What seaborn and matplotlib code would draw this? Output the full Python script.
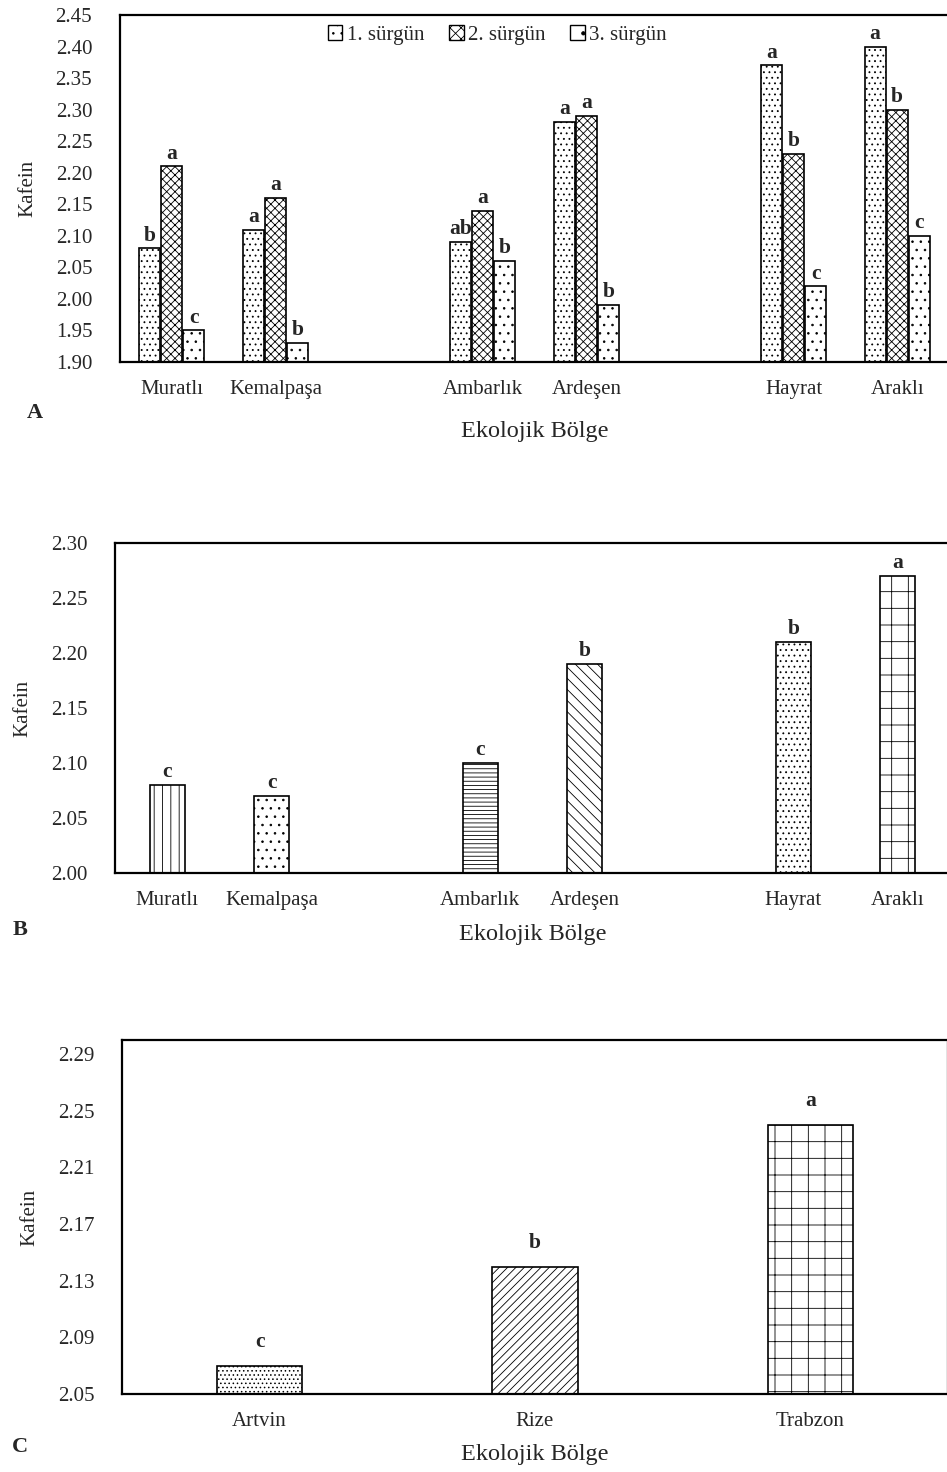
import pandas as pd
import seaborn as sns
import matplotlib.pyplot as plt
import matplotlib.patches as mpatches

# panel A: caffeine by region and harvest (sürgün)
regions_a = ['Muratlı', 'Kemalpaşa', 'Ambarlık', 'Ardeşen', 'Hayrat', 'Araklı']
surgun_1 = [2.08, 2.11, 2.09, 2.28, 2.37, 2.40]
surgun_2 = [2.21, 2.16, 2.14, 2.29, 2.23, 2.30]
surgun_3 = [1.95, 1.93, 2.06, 1.99, 2.02, 2.10]
letters_1 = ['b', 'a', 'ab', 'a', 'a', 'a']
letters_2 = ['a', 'a', 'a', 'a', 'b', 'b']
letters_3 = ['c', 'b', 'b', 'b', 'c', 'c']
hue_levels = ['1. sürgün', '2. sürgün', '3. sürgün']

# panel B: caffeine by region
regions_b = ['Muratlı', 'Kemalpaşa', 'Ambarlık', 'Ardeşen', 'Hayrat', 'Araklı']
kafein_b = [2.08, 2.07, 2.10, 2.19, 2.21, 2.27]
letters_b = ['c', 'c', 'c', 'b', 'b', 'a']

# panel C: caffeine by province
provinces_c = ['Artvin', 'Rize', 'Trabzon']
kafein_c = [2.07, 2.14, 2.24]
letters_c = ['c', 'b', 'a']

# order with empty slots between the groups (as in the Excel chart)
order_ab = ['Muratlı', 'Kemalpaşa', ' ', 'Ambarlık', 'Ardeşen', '  ', 'Hayrat', 'Araklı']

sns.set_style('white')
plt.rcParams['font.family'] = ['Liberation Serif', 'DejaVu Serif']
plt.rcParams['hatch.linewidth'] = 0.6
FS = 15

fig = plt.figure(figsize=(9.47, 14.72), dpi=100)
W, H = 947, 1472


def make_ax(left, top, right, bottom):
    return fig.add_axes([left / W, 1 - bottom / H, (right - left) / W, (bottom - top) / H])


def style_ax(ax, ylim, yticks, fmt, xpad):
    ax.set_ylim(*ylim)
    ax.set_yticks(yticks)
    ax.set_yticklabels([fmt.format(v) for v in yticks], fontsize=FS)
    ax.tick_params(axis='both', length=0, labelsize=FS)
    ax.tick_params(axis='y', pad=20)
    ax.tick_params(axis='x', pad=13)
    for s in ax.spines.values():
        s.set_color('black')
        s.set_linewidth(1.6)
    ax.set_ylabel('Kafein', fontsize=FS, labelpad=13)
    ax.set_xlabel('Ekolojik Bölge', fontsize=FS + 2.5, labelpad=xpad)


# ---------- A ----------
df_a = pd.DataFrame({
    'bolge': regions_a * 3,
    'sürgün': sum([[h] * len(regions_a) for h in hue_levels], []),
    'kafein': surgun_1 + surgun_2 + surgun_3,
    'harf': letters_1 + letters_2 + letters_3,
})
ax = make_ax(120, 15, 949, 362)
sns.barplot(data=df_a, x='bolge', y='kafein', hue='sürgün', order=order_ab,
            hue_order=hue_levels, width=0.64, gap=0.05,
            palette=['white'] * 3, edgecolor='black', linewidth=1.2,
            legend=False, ax=ax)
hatches_a = ['...', 'xxxx', '..']
for cont, h, lev in zip(ax.containers, hatches_a, hue_levels):
    sub = df_a[df_a['sürgün'] == lev]
    labs = []
    for p in cont.patches:
        p.set_hatch(h)
        p.set_facecolor('white')
        idx = int(round(p.get_x() + p.get_width() / 2))
        labs.append(sub.loc[sub['bolge'] == order_ab[idx], 'harf'].iloc[0])
    ax.bar_label(cont, labels=labs, fontsize=FS + 0.5, fontweight='bold', padding=2)
style_ax(ax, (1.90, 2.45), [1.90 + 0.05 * i for i in range(12)], '{:.2f}', 16)
handles = [mpatches.Patch(facecolor='white', edgecolor='black', hatch=h, label=l)
           for h, l in zip(['..', 'xxx', '.'], hue_levels)]
ax.legend(handles=handles, loc='upper center', bbox_to_anchor=(0.455, 1.025), ncol=3,
          frameon=False, fontsize=FS, handlelength=0.7, handleheight=0.7,
          handletextpad=0.2, columnspacing=1.2)
fig.text(35 / W, 1 - 413 / H, 'A', fontsize=FS + 1, fontweight='bold', ha='center', va='center')

# ---------- B ----------
df_b = pd.DataFrame({'bolge': regions_b, 'kafein': kafein_b, 'harf': letters_b})
ax = make_ax(115, 543, 950, 873)
sns.barplot(data=df_b, x='bolge', y='kafein', order=order_ab, width=0.335,
            color='white', edgecolor='black', linewidth=1.2, ax=ax)
hatches_b = {'Muratlı': '||', 'Kemalpaşa': '..', 'Ambarlık': '----',
             'Ardeşen': '\\\\\\', 'Hayrat': '...', 'Araklı': '+'}
labs = []
for p in ax.containers[0].patches:
    idx = int(round(p.get_x() + p.get_width() / 2))
    name = order_ab[idx]
    p.set_hatch(hatches_b[name])
    p.set_facecolor('white')
    labs.append(df_b.loc[df_b['bolge'] == name, 'harf'].iloc[0])
ax.bar_label(ax.containers[0], labels=labs, fontsize=FS + 0.5, fontweight='bold', padding=2)
style_ax(ax, (2.00, 2.30), [2.00 + 0.05 * i for i in range(7)], '{:.2f}', 10)
fig.text(20 / W, 1 - 930 / H, 'B', fontsize=FS + 1, fontweight='bold', ha='center', va='center')

# ---------- C ----------
df_c = pd.DataFrame({'il': provinces_c, 'kafein': kafein_c, 'harf': letters_c})
ax = make_ax(122, 1040, 948, 1394)
sns.barplot(data=df_c, x='il', y='kafein', order=provinces_c, width=0.31,
            color='white', edgecolor='black', linewidth=1.2, ax=ax)
hatches_c = ['....', '////', '+']
for p, h in zip(ax.containers[0].patches, hatches_c):
    p.set_hatch(h)
    p.set_facecolor('white')
ax.bar_label(ax.containers[0], labels=letters_c, fontsize=FS + 0.5, fontweight='bold', padding=10)
style_ax(ax, (2.05, 2.30), [2.05 + 0.04 * i for i in range(7)], '{:.2f}', 9)
fig.text(20 / W, 1 - 1447 / H, 'C', fontsize=FS + 1, fontweight='bold', ha='center', va='center')

fig.savefig('out.png', dpi=100)
